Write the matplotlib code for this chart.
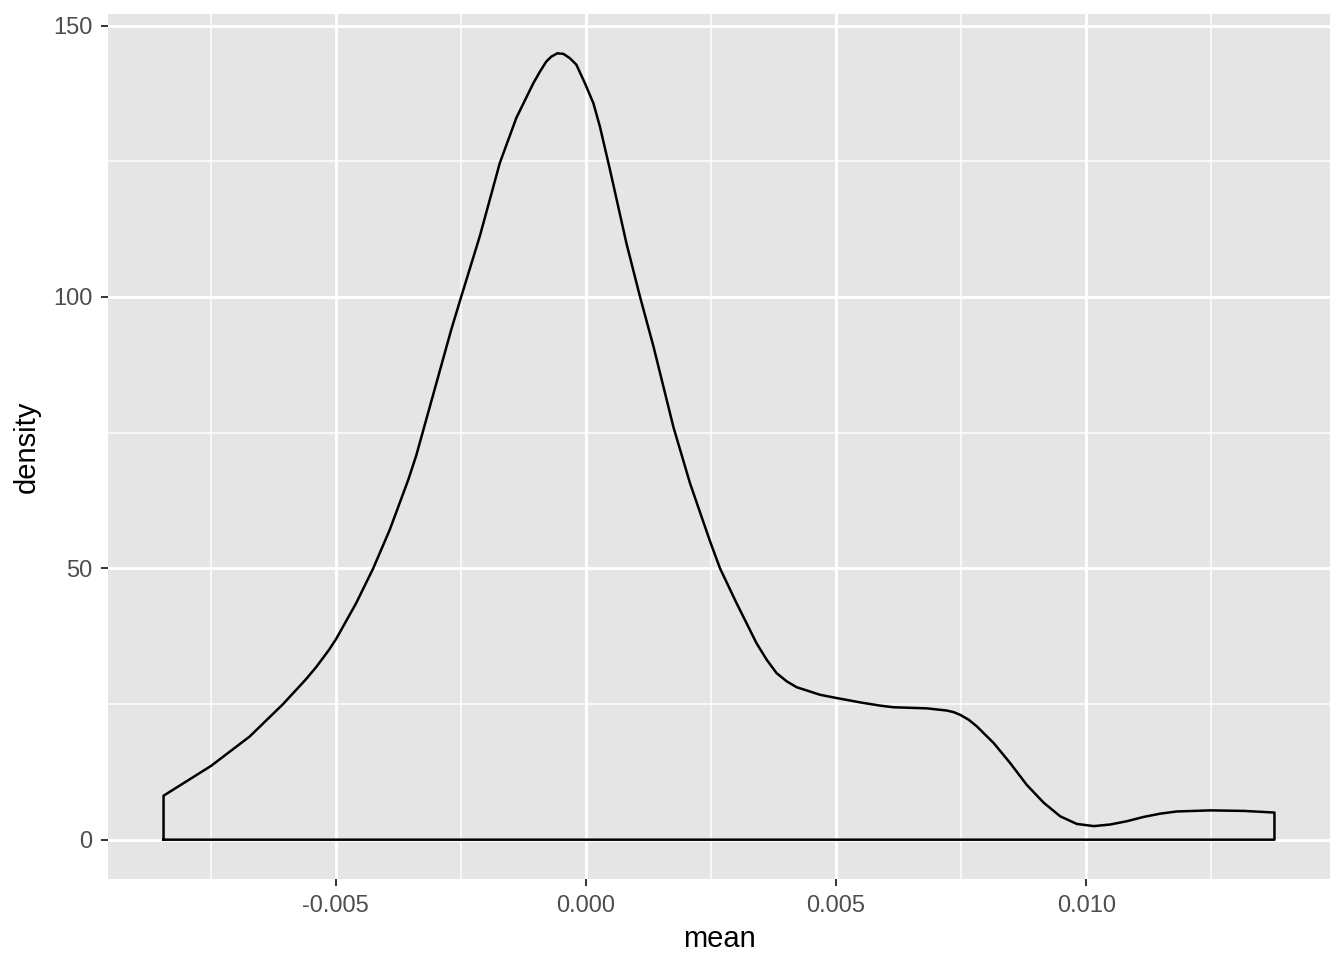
import numpy as np
import matplotlib.pyplot as plt

# density curve (mean vs density)
mean_x = [-0.00844, -0.00749, -0.00672, -0.00605, -0.00560, -0.00539, -0.00514,
          -0.00499, -0.00459, -0.00425, -0.00392, -0.00355, -0.00339, -0.00269,
          -0.00249, -0.00212, -0.00172, -0.00139, -0.00105, -0.00092, -0.00079,
          -0.00069, -0.00057, -0.00045, -0.00032, -0.00019, -0.00002, 0.00015,
          0.00028, 0.00048, 0.00081, 0.00108, 0.00135, 0.00175, 0.00208, 0.00248,
          0.00268, 0.00301, 0.00341, 0.00361, 0.00381, 0.00401, 0.00421, 0.00468,
          0.00501, 0.00548, 0.00588, 0.00615, 0.00681, 0.00721, 0.00735, 0.00748,
          0.00765, 0.00781, 0.00815, 0.00848, 0.00881, 0.00915, 0.00948, 0.00981,
          0.01015, 0.01048, 0.01081, 0.01115, 0.01148, 0.01181, 0.01248, 0.01315,
          0.01376]
density = [8.1, 13.6, 19.0, 25.0, 29.5, 31.8, 34.9,
           37.0, 43.6, 50.0, 57.1, 66.3, 70.8, 94.0,
           100.1, 111.2, 124.7, 133.0, 139.4, 141.5, 143.4,
           144.3, 144.9, 144.8, 144.0, 142.8, 139.4, 135.7,
           131.4, 123.5, 109.9, 100.1, 90.9, 76.0, 65.7, 55.0,
           50.0, 43.6, 36.2, 33.2, 30.7, 29.2, 28.1, 26.7,
           26.1, 25.3, 24.7, 24.4, 24.2, 23.8, 23.5, 23.0,
           22.1, 20.9, 17.8, 14.1, 10.1, 6.8, 4.3, 2.9,
           2.5, 2.8, 3.4, 4.2, 4.8, 5.2, 5.4, 5.3,
           5.0]

x_ticks = [-0.005, 0.000, 0.005, 0.010]
x_labels = ["-0.005", "0.000", "0.005", "0.010"]
y_ticks = [0, 50, 100, 150]

plt.rcParams['font.family'] = ['Liberation Sans', 'DejaVu Sans']

fig = plt.figure(figsize=(13.44, 9.6), dpi=100)
ax = fig.add_axes([108 / 1344, 1 - 879 / 960, (1330 - 108) / 1344, (879 - 14) / 960])
ax.set_facecolor('#E5E5E5')
for s in ax.spines.values():
    s.set_visible(False)

# closed outline like geom_density (no fill)
xs = np.concatenate([[mean_x[0]], mean_x, [mean_x[-1], mean_x[0]]])
ys = np.concatenate([[0], density, [0, 0]])
ax.plot(xs, ys, color='black', lw=1.8, solid_joinstyle='round', zorder=3)

xr = mean_x[-1] - mean_x[0]
ax.set_xlim(mean_x[0] - 0.05 * xr, mean_x[-1] + 0.05 * xr)
ymax = max(density)
ax.set_ylim(-0.05 * ymax, ymax * 1.05)

ax.set_xticks(x_ticks)
ax.set_xticklabels(x_labels)
ax.set_yticks(y_ticks)
ax.set_xticks([-0.0075, -0.0025, 0.0025, 0.0075, 0.0125], minor=True)
ax.set_yticks([25, 75, 125], minor=True)

ax.grid(which='major', color='white', lw=2.1, zorder=0)
ax.grid(which='minor', color='white', lw=1.1, zorder=0)
ax.set_axisbelow(True)

ax.tick_params(which='major', length=5.3, width=1.4, color='#333333',
               labelcolor='#4D4D4D', labelsize=17, pad=6)
ax.tick_params(which='minor', length=0)

ax.set_xlabel('mean', fontsize=21, color='black', labelpad=6)
ax.set_ylabel('density', fontsize=21, color='black', labelpad=9)

fig.savefig('out.png', dpi=100, facecolor='white')
